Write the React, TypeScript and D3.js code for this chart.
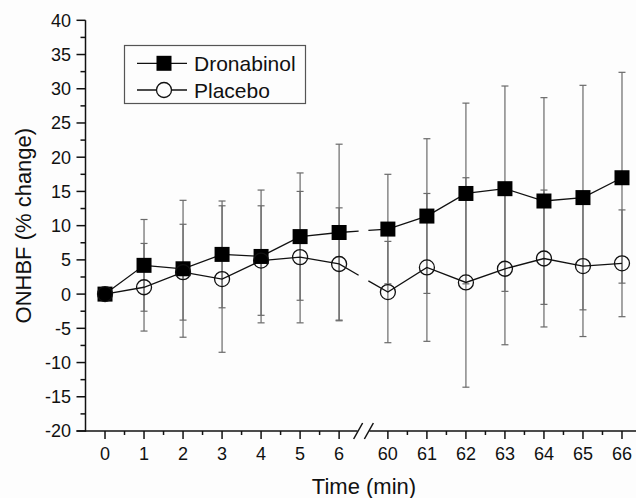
import React from 'react';
import * as d3 from 'd3';

const times = [0, 1, 2, 3, 4, 5, 6, 60, 61, 62, 63, 64, 65, 66];
const dronabinol = [0, 4.2, 3.7, 5.8, 5.5, 8.4, 9.0, 9.5, 11.4, 14.7, 15.4, 13.6, 14.1, 17.0];
const dronabinolSD = [0, 6.7, 10.0, 7.8, 9.7, 9.3, 12.9, 8.0, 11.3, 13.2, 15.0, 15.1, 16.4, 15.4];
const placebo = [0, 1.0, 3.2, 2.2, 4.9, 5.4, 4.4, 0.3, 3.9, 1.7, 3.7, 5.2, 4.1, 4.5];
const placeboSD = [0, 6.4, 7.0, 10.7, 8.0, 9.6, 8.2, 7.4, 10.8, 15.3, 11.1, 10.0, 10.3, 7.8];
const yTicks = [-20, -15, -10, -5, 0, 5, 10, 15, 20, 25, 30, 35, 40];

const W = 636;
const H = 498;
const FONT = 'Arial, "Liberation Sans", sans-serif';

// broken time axis: 0..6.5 then 59.5..66.5
const breakAt = 6.5;
const resumeAt = 59.5;
const breakGap = 0.25;
const toPos = (t: number) => (t <= breakAt ? t : t - resumeAt + breakAt + breakGap);

const x = d3.scaleLinear().domain([-0.5, 13.75]).range([85.5, 641.5]);
const y = d3.scaleLinear().domain([-20, 40]).range([431, 20.3]);
const px = (t: number) => x(toPos(t));

const series = [
  { name: 'Dronabinol', values: dronabinol, sd: dronabinolSD, shape: 'square' },
  { name: 'Placebo', values: placebo, sd: placeboSD, shape: 'circle' },
];

const App: React.FC = () => {
  const line = d3.line<[number, number]>();
  const x0 = x(breakAt);
  const x1 = x(breakAt + breakGap);

  const minors: number[] = [];
  times.forEach((t) => {
    if (t + 0.5 !== breakAt && t + 0.5 <= 66) minors.push(t + 0.5);
  });
  const yMinors = yTicks.slice(0, -1).map((v) => v + 2.5);

  return (
    <svg width={W} height={H} style={{ position: 'absolute', left: 0, top: 0, background: '#fdfdfd' }}>
      {/* error bars */}
      {series.map((s) => (
        <g key={s.name + 'err'} stroke="#6a6a6a" strokeWidth={1.2}>
          {times.map((t, i) => {
            if (!s.sd[i]) return null;
            const cx = px(t);
            const hi = y(s.values[i] + s.sd[i]);
            const lo = y(s.values[i] - s.sd[i]);
            return (
              <g key={t}>
                <line x1={cx} x2={cx} y1={hi} y2={lo} />
                <line x1={cx - 3.5} x2={cx + 3.5} y1={hi} y2={hi} />
                <line x1={cx - 3.5} x2={cx + 3.5} y1={lo} y2={lo} />
              </g>
            );
          })}
        </g>
      ))}

      {/* lines, broken across the axis gap */}
      {series.map((s) => {
        const pts: [number, number][] = times.map((t, i) => [px(t), y(s.values[i])]);
        const a = pts[6];
        const b = pts[7];
        const lerp = (xx: number): [number, number] => [xx, a[1] + ((xx - a[0]) / (b[0] - a[0])) * (b[1] - a[1])];
        const left = [...pts.slice(0, 7), lerp(x0)];
        const right = [lerp(x1), ...pts.slice(7)];
        return (
          <g key={s.name + 'line'} fill="none" stroke="#111" strokeWidth={1.3}>
            <path d={line(left) || ''} />
            <path d={line(right) || ''} />
          </g>
        );
      })}

      {/* markers */}
      {series.map((s) => (
        <g key={s.name + 'mk'}>
          {times.map((t, i) =>
            s.shape === 'square' ? (
              <rect key={t} x={px(t) - 7.5} y={y(s.values[i]) - 7.5} width={15} height={15} fill="#000" />
            ) : (
              <circle key={t} cx={px(t)} cy={y(s.values[i])} r={7.5} fill="none" stroke="#111" strokeWidth={1.3} />
            )
          )}
        </g>
      ))}

      {/* y axis */}
      <g stroke="#111" strokeWidth={1.5}>
        <line x1={x(-0.5)} x2={x(-0.5)} y1={y(40)} y2={y(-20) + 0.7} />
        {yTicks.map((v) => (
          <line key={v} x1={x(-0.5) - 9} x2={x(-0.5)} y1={y(v)} y2={y(v)} />
        ))}
        {yMinors.map((v) => (
          <line key={v} x1={x(-0.5) - 5} x2={x(-0.5)} y1={y(v)} y2={y(v)} />
        ))}
      </g>
      <g fontFamily={FONT} fontSize={18} fill="#111" textAnchor="end">
        {yTicks.map((v) => (
          <text key={v} x={71} y={y(v)} dy="0.36em">
            {v}
          </text>
        ))}
      </g>

      {/* x axis */}
      <g stroke="#111" strokeWidth={1.5}>
        <line x1={x(-0.5) - 9} x2={W} y1={y(-20)} y2={y(-20)} />
        {times.map((t) => (
          <line key={t} x1={px(t)} x2={px(t)} y1={y(-20)} y2={y(-20) + 8} />
        ))}
        {minors.map((t) => (
          <line key={t} x1={px(t)} x2={px(t)} y1={y(-20)} y2={y(-20) + 4} />
        ))}
      </g>
      <rect x={x0 - 1} y={y(-20) - 3} width={x1 - x0 + 2} height={6} fill="#fdfdfd" />
      <g stroke="#111" strokeWidth={1.5}>
        <line x1={x0 - 5} x2={x0 + 4} y1={y(-20) + 8} y2={y(-20) - 8} />
        <line x1={x1 - 4} x2={x1 + 5} y1={y(-20) + 8} y2={y(-20) - 8} />
      </g>
      <g fontFamily={FONT} fontSize={18} fill="#111" textAnchor="middle">
        {times.map((t) => (
          <text key={t} x={px(t)} y={460}>
            {t}
          </text>
        ))}
      </g>

      {/* axis titles */}
      <text x={364} y={494} fontFamily={FONT} fontSize={22} textAnchor="middle" fill="#111">
        Time (min)
      </text>
      <text
        transform={`translate(31,${(y(40) + y(-20)) / 2}) rotate(-90)`}
        fontFamily={FONT}
        fontSize={22}
        textAnchor="middle"
        fill="#111"
      >
        ONHBF (% change)
      </text>

      {/* legend */}
      <g>
        <rect x={124.5} y={45.5} width={181} height={58} fill="none" stroke="#555" strokeWidth={1.2} />
        {series.map((s, i) => {
          const ly = 63.3 + i * 26.7;
          return (
            <g key={s.name + 'lg'}>
              <line x1={137} x2={187} y1={ly} y2={ly} stroke="#111" strokeWidth={1.3} />
              {s.shape === 'square' ? (
                <rect x={156.5} y={ly - 7.5} width={15} height={15} fill="#000" />
              ) : (
                <circle cx={164} cy={ly} r={7.5} fill="#fdfdfd" stroke="#111" strokeWidth={1.3} />
              )}
              <text x={194} y={ly} dy="0.36em" fontFamily={FONT} fontSize={21} fill="#111">
                {s.name}
              </text>
            </g>
          );
        })}
      </g>
    </svg>
  );
};

export default App;
